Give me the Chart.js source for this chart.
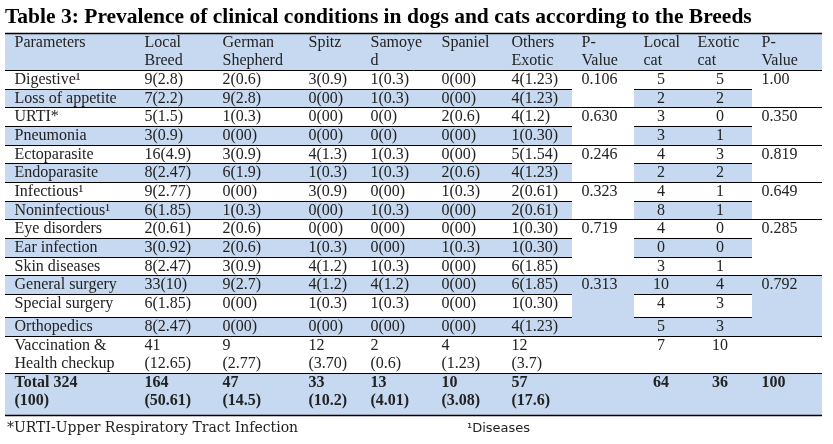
<!DOCTYPE html>
<html>
<head>
<meta charset="utf-8">
<script src="https://cdn.jsdelivr.net/npm/chart.js@4.4.1/dist/chart.umd.min.js"></script>
<style>
  html, body { margin: 0; padding: 0; background: #fff; }
  #wrap { width: 833px; height: 444px; }
</style>
</head>
<body>
<div id="wrap"><canvas id="myTable"></canvas></div>
<script>
// table contents
let headers = ['Parameters', 'Local\nBreed', 'German\nShepherd', 'Spitz', 'Samoye\nd', 'Spaniel', 'Others\nExotic', 'P-\nValue', 'Local\ncat', 'Exotic\ncat', 'P-\nValue']
let parameters = ['Digestive¹', 'Loss of appetite', 'URTI*', 'Pneumonia', 'Ectoparasite', 'Endoparasite', 'Infectious¹', 'Noninfectious¹', 'Eye disorders', 'Ear infection', 'Skin diseases', 'General surgery', 'Special surgery', 'Orthopedics', 'Vaccination &\nHealth checkup']
let localBreed = ['9(2.8)', '7(2.2)', '5(1.5)', '3(0.9)', '16(4.9)', '8(2.47)', '9(2.77)', '6(1.85)', '2(0.61)', '3(0.92)', '8(2.47)', '33(10)', '6(1.85)', '8(2.47)', '41\n(12.65)']
let germanShepherd = ['2(0.6)', '9(2.8)', '1(0.3)', '0(00)', '3(0.9)', '6(1.9)', '0(00)', '1(0.3)', '2(0.6)', '2(0.6)', '3(0.9)', '9(2.7)', '0(00)', '0(00)', '9\n(2.77)']
let spitz = ['3(0.9)', '0(00)', '0(00)', '0(00)', '4(1.3)', '1(0.3)', '3(0.9)', '0(00)', '0(00)', '1(0.3)', '4(1.2)', '4(1.2)', '1(0.3)', '0(00)', '12\n(3.70)']
let samoyed = ['1(0.3)', '1(0.3)', '0(0)', '0(0)', '1(0.3)', '1(0.3)', '0(00)', '1(0.3)', '0(00)', '0(00)', '1(0.3)', '4(1.2)', '1(0.3)', '0(00)', '2\n(0.6)']
let spaniel = ['0(00)', '0(00)', '2(0.6)', '0(00)', '0(00)', '2(0.6)', '1(0.3)', '0(00)', '0(00)', '1(0.3)', '0(00)', '0(00)', '0(00)', '0(00)', '4\n(1.23)']
let othersExotic = ['4(1.23)', '4(1.23)', '4(1.2)', '1(0.30)', '5(1.54)', '4(1.23)', '2(0.61)', '2(0.61)', '1(0.30)', '1(0.30)', '6(1.85)', '6(1.85)', '1(0.30)', '4(1.23)', '12\n(3.7)']
let localCat = [5, 2, 3, 3, 4, 2, 4, 8, 4, 0, 3, 10, 4, 5, 7]
let exoticCat = [5, 2, 0, 1, 3, 2, 1, 1, 0, 0, 1, 4, 3, 3, 10]
let groupSizes = [2, 2, 2, 2, 3, 3, 1]
let pValueDog = ['0.106', '0.630', '0.246', '0.323', '0.719', '0.313', '']
let pValueCat = ['1.00', '0.350', '0.819', '0.649', '0.285', '0.792', '']
let totalRow = ['Total 324\n(100)', '164\n(50.61)', '47\n(14.5)', '33\n(10.2)', '13\n(4.01)', '10\n(3.08)', '57\n(17.6)', '', '64', '36', '100']
let titleText = 'Table 3: Prevalence of clinical conditions in dogs and cats according to the Breeds'
let footnotes = ['*URTI-Upper Respiratory Tract Infection', '¹Diseases']

// layout (scale units)
let colWidths = [130, 78, 86, 62, 71, 70, 70, 62, 54, 64, 70]
let rowHeights = [37, 19, 18, 19, 19, 18, 19, 19, 18, 19, 19, 18, 19, 23, 19, 37, 42]
let pCols = [7, 10]
let centerCols = [8, 9]
let blue = '#c6d9f1'
let ink = '#222'
let bodyFont = '16px "Liberation Serif"'
let boldFont = 'bold 16px "Liberation Serif"'

let colEdges = [0]
colWidths.forEach(w => colEdges.push(colEdges[colEdges.length - 1] + w))
let rowEdges = [0]
rowHeights.forEach(h => rowEdges.push(rowEdges[rowEdges.length - 1] + h))

let bodyCols = [parameters, localBreed, germanShepherd, spitz, samoyed, spaniel, othersExotic, null, localCat, exoticCat, null]
let groupStarts = []
let g = 0
groupSizes.forEach(s => { groupStarts.push(g); g += s })

let tablePlugin = {
    id: 'tablePlugin',
    afterDraw(chart) {
        let c = chart.ctx
        let xs = chart.scales.x
        let ys = chart.scales.y
        let px = i => xs.getPixelForValue(colEdges[i])
        let py = i => ys.getPixelForValue(rowEdges[i])
        let nBody = parameters.length

        let fillCell = (c0, c1, r0, r1, color) => {
            c.fillStyle = color
            c.fillRect(px(c0), py(r0), px(c1) - px(c0), py(r1) - py(r0))
        }
        let hline = (c0, c1, r, w) => {
            c.strokeStyle = '#000'
            c.lineWidth = w || 1
            let y = Math.round(py(r)) + 0.5
            c.beginPath()
            c.moveTo(px(c0), y)
            c.lineTo(px(c1), y)
            c.stroke()
        }
        let text = (str, col, r, bold) => {
            if (str === '' || str === null || str === undefined) return
            c.font = bold ? boldFont : bodyFont
            c.fillStyle = ink
            c.textBaseline = 'alphabetic'
            let centered = centerCols.includes(col) && r > 0
            c.textAlign = centered ? 'center' : 'left'
            let x = centered ? (px(col) + px(col + 1)) / 2 : px(col) + 9.5
            String(str).split('\n').forEach((line, i) => {
                c.fillText(line, x, py(r) + 14 + i * 17.8)
            })
        }

        c.save()
        // backgrounds
        fillCell(0, colWidths.length, 0, 1, blue)
        for (let r = 0; r < nBody; r++) {
            let color = r % 2 ? blue : '#fff'
            for (let col = 0; col < colWidths.length; col++) {
                if (pCols.includes(col)) continue
                fillCell(col, col + 1, r + 1, r + 2, color)
            }
        }
        groupStarts.forEach((s, gi) => {
            let color = s % 2 ? blue : '#fff'
            pCols.forEach(col => fillCell(col, col + 1, s + 1, s + 1 + groupSizes[gi], color))
        })
        fillCell(0, colWidths.length, nBody + 1, nBody + 2, blue)

        // rules
        hline(0, colWidths.length, 0, 1.5)
        hline(0, colWidths.length, 1)
        for (let r = 1; r <= nBody; r++) {
            let groupEnd = groupStarts.includes(r) || r === nBody
            for (let col = 0; col < colWidths.length; col++) {
                if (pCols.includes(col) && !groupEnd) continue
                hline(col, col + 1, r + 1)
            }
        }
        hline(0, colWidths.length, nBody + 2, 1.5)

        // texts
        headers.forEach((h, col) => text(h, col, 0, false))
        for (let r = 0; r < nBody; r++) {
            bodyCols.forEach((arr, col) => { if (arr) text(arr[r], col, r + 1, false) })
        }
        groupStarts.forEach((s, gi) => {
            text(pValueDog[gi], 7, s + 1, false)
            text(pValueCat[gi], 10, s + 1, false)
        })
        totalRow.forEach((t, col) => text(t, col, nBody + 1, true))

        // footnotes
        let yb = py(nBody + 2) + 17
        c.textAlign = 'left'
        c.font = '14px "DejaVu Serif"'
        c.fillText(footnotes[0], 7, yb)
        c.font = '13px "DejaVu Sans"'
        c.fillText(footnotes[1], 467, yb)
        c.restore()
    }
}

let ctx = document.getElementById('myTable').getContext('2d')
let myTable = new Chart(ctx, {
    type: 'scatter',
    data: {
        datasets: [{ data: [] }]
    },
    options: {
        responsive: true,
        maintainAspectRatio: false,
        animation: false,
        layout: {
            padding: { left: 5, right: 11, top: 0, bottom: 29 }
        },
        scales: {
            x: { type: 'linear', min: 0, max: colEdges[colEdges.length - 1], display: false },
            y: { type: 'linear', min: 0, max: rowEdges[rowEdges.length - 1], reverse: true, display: false }
        },
        plugins: {
            legend: { display: false },
            tooltip: { enabled: false },
            title: {
                display: true,
                text: titleText,
                align: 'start',
                color: '#000',
                font: { family: '"Liberation Serif"', size: 21.5, weight: 'bold' },
                padding: { top: 4.6, bottom: 2.6 }
            }
        }
    },
    plugins: [tablePlugin]
})
</script>
</body>
</html>
